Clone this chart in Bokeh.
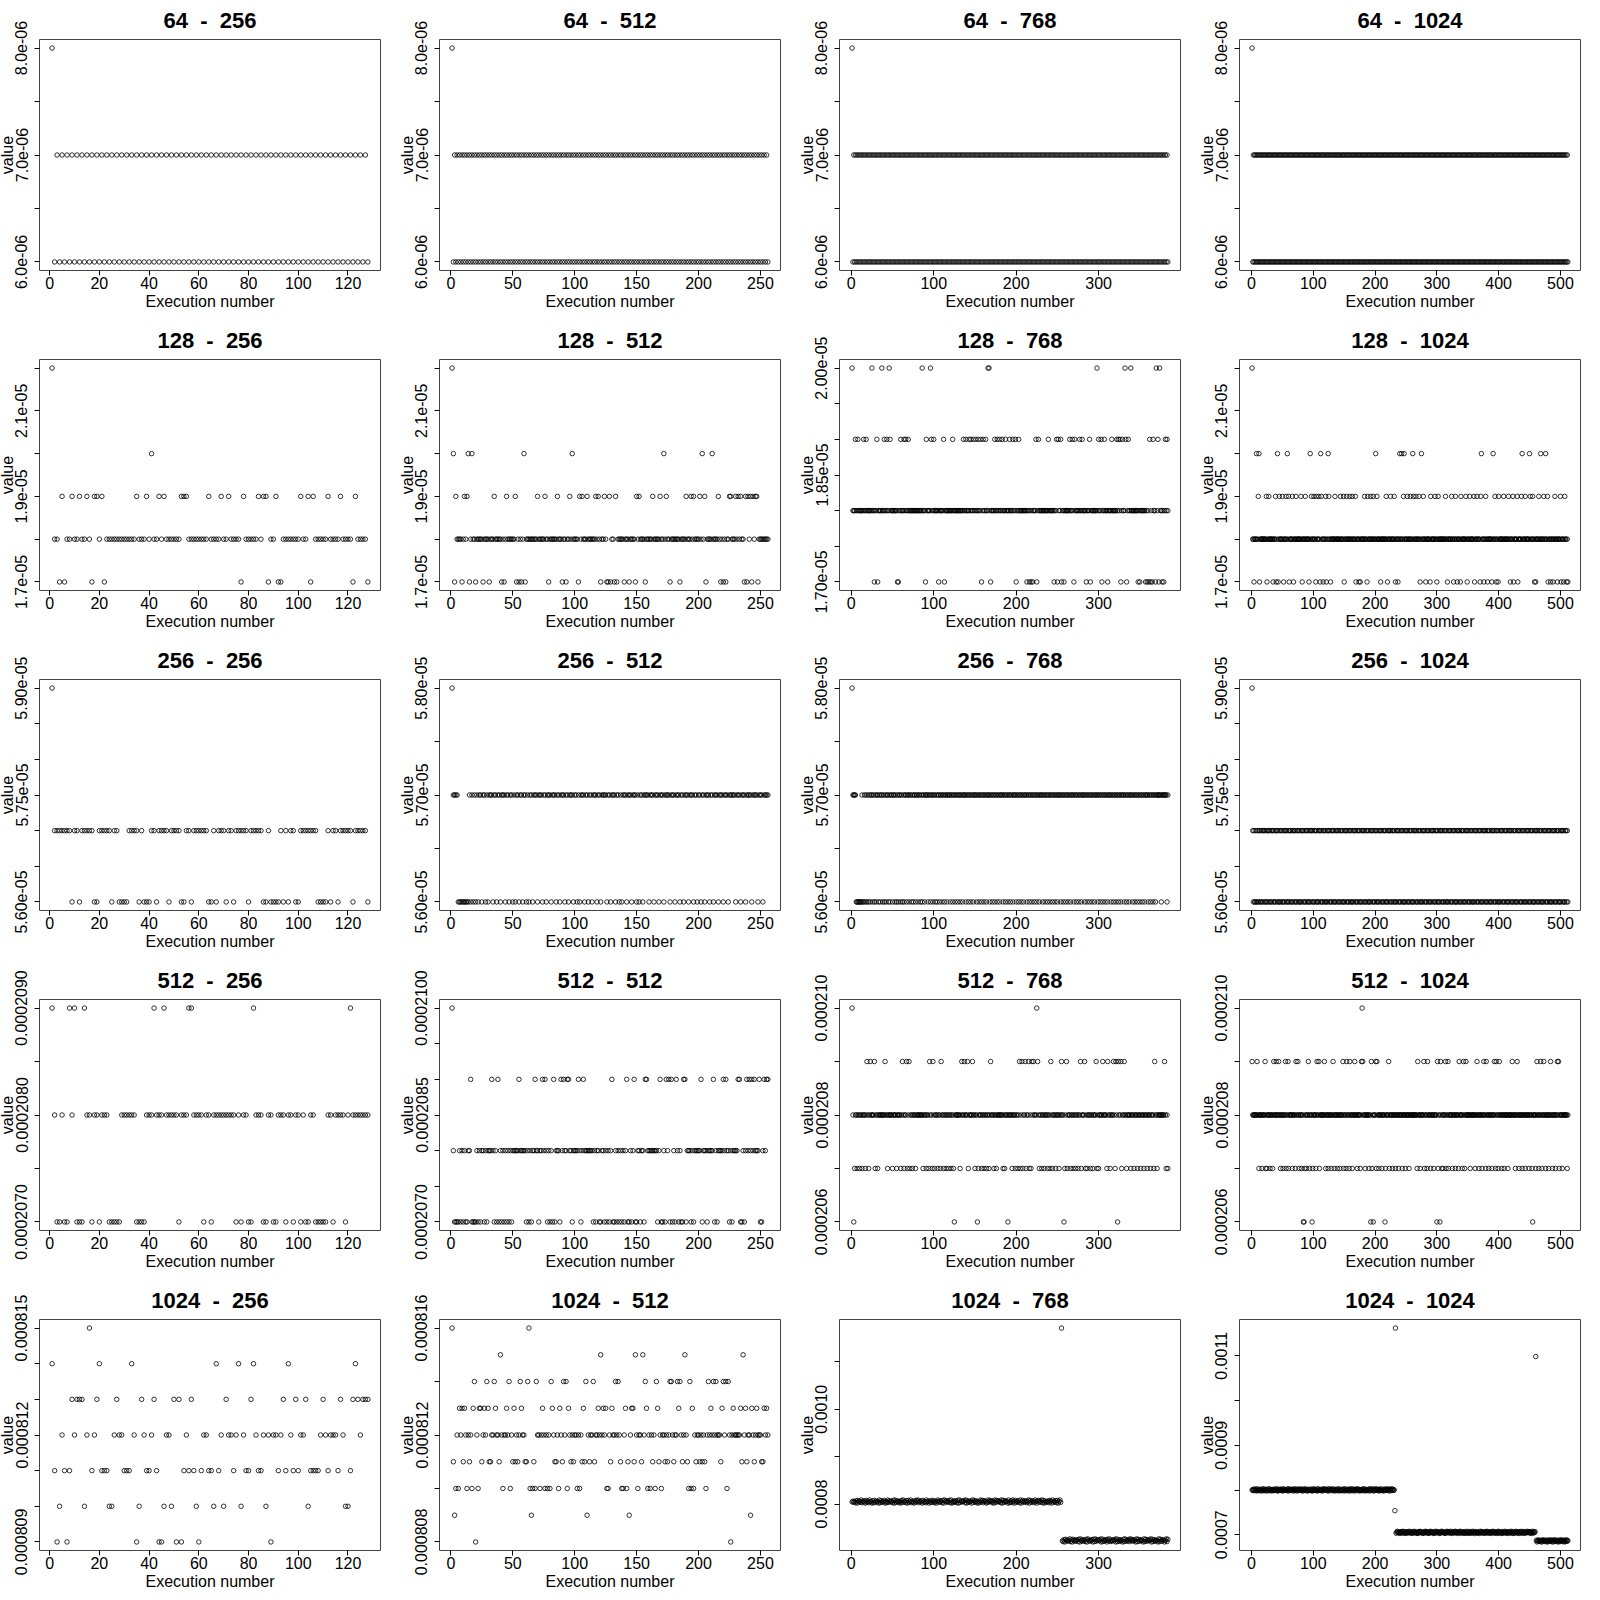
from bokeh.plotting import figure
from bokeh.layouts import gridplot
from bokeh.models import Range1d, FixedTicker
from bokeh.embed import file_html
from bokeh.resources import INLINE

ROWS = [64, 128, 256, 512, 1024]
COLS = [256, 512, 768, 1024]
X_TICKS = [[0, 20, 40, 60, 80, 100, 120], [0, 50, 100, 150, 200, 250],
           [0, 100, 200, 300], [0, 100, 200, 300, 400, 500]]

# ---------------- y ticks / labels ----------------
YT_64 = [6.0e-06, 6.5e-06, 7.0e-06, 7.5e-06, 8.0e-06]
YL_64 = ["6.0e-06", "", "7.0e-06", "", "8.0e-06"]
YT_128A = [1.7e-05, 1.8e-05, 1.9e-05, 2.0e-05, 2.1e-05, 2.2e-05]
YL_128A = ["1.7e-05", "", "1.9e-05", "", "2.1e-05", ""]
YT_128B = [1.7e-05, 1.75e-05, 1.8e-05, 1.85e-05, 1.9e-05, 1.95e-05, 2.0e-05]
YL_128B = ["1.70e-05", "", "", "1.85e-05", "", "", "2.00e-05"]
YT_256A = [5.6e-05, 5.65e-05, 5.7e-05, 5.75e-05, 5.8e-05, 5.85e-05, 5.9e-05]
YL_256A = ["5.60e-05", "", "", "5.75e-05", "", "", "5.90e-05"]
YT_256B = [5.6e-05, 5.65e-05, 5.7e-05, 5.75e-05, 5.8e-05]
YL_256B = ["5.60e-05", "", "5.70e-05", "", "5.80e-05"]
YT_512A = [0.000207, 0.0002075, 0.000208, 0.0002085, 0.000209]
YL_512A = ["0.0002070", "", "0.0002080", "", "0.0002090"]
YT_512B = [0.000207, 0.0002075, 0.000208, 0.0002085, 0.000209, 0.0002095, 0.00021]
YL_512B = ["0.0002070", "", "", "0.0002085", "", "", "0.0002100"]
YT_512C = [0.000206, 0.000207, 0.000208, 0.000209, 0.00021]
YL_512C = ["0.000206", "", "0.000208", "", "0.000210"]
YT_1024A = [0.000809, 0.00081, 0.000811, 0.000812, 0.000813, 0.000814, 0.000815]
YL_1024A = ["0.000809", "", "", "0.000812", "", "", "0.000815"]
YT_1024B = [0.000808, 0.00081, 0.000812, 0.000814, 0.000816]
YL_1024B = ["0.000808", "", "0.000812", "", "0.000816"]
YT_1024C = [0.0008, 0.0009, 0.001, 0.0011]
YL_1024C = ["0.0008", "", "0.0010", ""]
YT_1024D = [0.0007, 0.0008, 0.0009, 0.001, 0.0011]
YL_1024D = ["0.0007", "", "0.0009", "", "0.0011"]

# ---------------- row 64 : level codes ----------------
LEV_64 = [6.0e-06, 7.0e-06, 8.0e-06]
CODES_64_256 = "2" + "01" * 63 + "0"
CODES_64_512 = "2" + "01" * 127 + "0"
CODES_64_768 = "2" + "01" * 191 + "0"
CODES_64_1024 = "2" + "01" * 255 + "0"

# ---------------- row 128 ----------------
DEF_128_256 = 1.8e-05
EXC_128_256 = [
    (1.7e-05, [4, 6, 17, 22, 77, 88, 92, 93, 105, 122, 128]),
    (1.9e-05, [5, 9, 12, 15, 18, 19, 21, 35, 39, 44, 46, 53, 54, 55, 64, 69, 72, 78, 84, 86, 87,
               91, 101, 104, 106, 112, 117, 123]),
    (2.0e-05, [41]),
    (2.2e-05, [1]),
]
DEF_128_512 = 1.8e-05
EXC_128_512 = [
    (1.7e-05, [3, 9, 15, 20, 26, 31, 41, 43, 53, 55, 57, 60, 79, 90, 93, 103, 121, 126, 127, 129,
               132, 134, 140, 144, 149, 157, 177, 185, 206, 218, 220, 222, 237, 239, 243, 248]),
    (1.9e-05, [4, 11, 13, 35, 45, 52, 70, 76, 86, 96, 104, 106, 110, 117, 119, 124, 128, 133, 150,
               152, 163, 169, 174, 190, 194, 196, 201, 205, 216, 225, 226, 230, 232, 234, 238,
               240, 242, 244, 246, 247]),
    (2.0e-05, [2, 14, 17, 59, 98, 172, 203, 211]),
    (2.2e-05, [1]),
]
DEF_128_768 = 1.8e-05
EXC_128_768 = [
    (1.7e-05, [28, 32, 56, 57, 90, 106, 113, 158, 169, 200, 213, 216, 218, 220, 225, 246, 250,
               255, 258, 270, 285, 290, 304, 311, 327, 334, 348, 350, 357, 359, 361, 363, 365,
               369, 373, 377, 379]),
    (1.9e-05, [5, 8, 15, 18, 31, 40, 43, 47, 60, 64, 66, 69, 91, 97, 100, 112, 123, 136, 139, 143,
               145, 148, 151, 154, 157, 160, 163, 174, 177, 180, 183, 187, 192, 196, 199, 203,
               224, 227, 239, 249, 251, 254, 265, 268, 271, 277, 280, 289, 300, 303, 307, 316,
               322, 324, 326, 329, 333, 336, 362, 366, 372, 381, 383]),
    (2.0e-05, [1, 25, 37, 46, 86, 96, 166, 167, 298, 332, 339, 370, 374]),
]
DEF_128_1024 = 1.8e-05
EXC_128_1024 = [
    (1.7e-05, [4, 13, 25, 35, 40, 43, 52, 61, 68, 82, 93, 104, 111, 116, 121, 128, 150, 169, 174,
               176, 187, 209, 220, 233, 237, 273, 282, 289, 300, 317, 327, 333, 338, 349, 361,
               370, 376, 382, 389, 396, 399, 419, 424, 431, 458, 460, 480, 484, 488, 495, 501,
               505, 510, 512]),
    (1.9e-05, [11, 24, 28, 39, 45, 50, 56, 60, 66, 72, 80, 87, 97, 101, 105, 109, 113, 120, 125,
               135, 144, 149, 154, 159, 163, 168, 183, 188, 193, 197, 203, 218, 225, 231, 246,
               252, 257, 262, 266, 271, 278, 290, 297, 302, 314, 324, 330, 339, 347, 353, 360,
               365, 371, 379, 394, 400, 408, 416, 423, 430, 437, 443, 451, 455, 465, 473, 479,
               491, 500, 507]),
    (2.0e-05, [8, 12, 42, 58, 95, 112, 124, 201, 240, 243, 247, 261, 275, 372, 391, 438, 450,
               468, 476]),
    (2.2e-05, [1]),
]

# ---------------- row 256 ----------------
DEF_256_256 = 5.7e-05
EXC_256_256 = [
    (5.6e-05, [9, 12, 18, 19, 25, 28, 29, 30, 31, 36, 38, 39, 40, 43, 48, 53, 54, 57, 64, 65, 67,
               71, 74, 80, 86, 87, 89, 90, 91, 92, 94, 96, 99, 100, 108, 109, 110, 111, 113, 116,
               122, 128]),
    (5.9e-05, [1]),
]
DEF_256_512 = 5.7e-05
EXC_256_512 = [
    (5.6e-05, [6, 7, 8, 9, 10, 11, 12, 13, 14, 16, 18, 20, 22, 25, 28, 30, 34, 37, 40, 44, 47,
               50, 52, 55, 58, 61, 63, 66, 70, 74, 77, 81, 85, 88, 92, 95, 99, 102, 104, 108, 111,
               114, 118, 121, 126, 129, 133, 136, 138, 142, 146, 150, 152, 155, 160, 164, 168,
               172, 177, 181, 185, 188, 192, 196, 199, 202, 205, 209, 212, 216, 220, 224, 230,
               234, 238, 243, 248, 252]),
    (5.8e-05, [1]),
]
DEF_256_768 = 5.7e-05
EXC_256_768 = [
    (5.6e-05, [6, 7, 8, 9, 10, 11, 12, 14, 15, 17, 19, 21, 23, 26, 28, 30, 33, 35, 38, 40, 42,
               45, 47, 50, 53, 55, 57, 60, 62, 64, 67, 70, 73, 75, 78, 81, 84, 86, 89, 93, 96, 99,
               102, 104, 107, 110, 113, 116, 120, 123, 126, 129, 132, 135, 139, 142, 145, 148,
               152, 155, 158, 161, 164, 168, 171, 174, 177, 180, 184, 187, 190, 193, 196, 200,
               203, 206, 209, 213, 216, 219, 222, 225, 228, 232, 235, 238, 241, 244, 247, 250,
               254, 257, 260, 263, 266, 270, 273, 276, 279, 283, 286, 289, 292, 295, 299, 302,
               305, 308, 311, 315, 318, 321, 324, 327, 331, 334, 337, 341, 344, 347, 350, 353,
               356, 360, 363, 366, 369, 376, 383]),
    (5.8e-05, [1]),
]
DEF_256_1024 = 5.7e-05
EXC_256_1024 = [
    (5.6e-05, [3, 5, 6, 8, 10, 11, 14, 15, 17, 19, 22, 23, 25, 27, 30, 31, 33, 36, 37, 39, 42,
               44, 45, 47, 50, 51, 53, 56, 58, 59, 61, 64, 65, 67, 70, 72, 73, 76, 78, 79, 81, 84,
               86, 87, 90, 92, 93, 95, 98, 100, 101, 104, 106, 107, 109, 112, 114, 115, 118, 120,
               121, 123, 126, 128, 129, 132, 134, 135, 137, 140, 142, 143, 146, 148, 149, 151,
               154, 156, 157, 160, 162, 163, 165, 168, 170, 171, 174, 176, 177, 179, 182, 184,
               185, 188, 190, 191, 193, 196, 198, 199, 202, 204, 205, 207, 210, 212, 213, 216,
               218, 219, 221, 224, 226, 227, 230, 232, 233, 235, 238, 240, 241, 244, 246, 247,
               249, 252, 254, 255, 258, 260, 261, 263, 266, 268, 269, 272, 274, 275, 277, 280,
               282, 283, 286, 288, 289, 291, 294, 296, 297, 300, 302, 303, 305, 308, 310, 311,
               314, 316, 317, 319, 322, 324, 325, 328, 330, 331, 333, 336, 338, 339, 342, 344,
               345, 347, 350, 352, 353, 356, 358, 359, 361, 364, 366, 367, 370, 372, 373, 375,
               378, 380, 381, 384, 386, 387, 389, 392, 394, 395, 398, 400, 401, 403, 406, 408,
               409, 412, 414, 415, 417, 420, 422, 423, 426, 428, 429, 431, 434, 436, 437, 440,
               442, 443, 445, 448, 450, 451, 454, 456, 457, 459, 462, 464, 465, 468, 470, 471,
               473, 476, 478, 479, 482, 484, 485, 487, 490, 492, 493, 496, 498, 499, 501, 504,
               506, 507, 510, 512]),
    (5.9e-05, [1]),
]

# ---------------- row 512 ----------------
DEF_512_256 = 0.000208
EXC_512_256 = [
    (0.000207, [3, 4, 6, 7, 11, 12, 13, 17, 20, 24, 25, 26, 27, 28, 35, 36, 37, 38, 52, 62, 65,
                75, 77, 80, 81, 86, 87, 90, 91, 95, 98, 101, 103, 104, 107, 108, 109, 110, 111,
                114, 119]),
    (0.000209, [1, 8, 10, 14, 42, 46, 56, 57, 82, 121]),
]
DEF_512_512 = 0.000208
EXC_512_512 = [
    (0.000207, [3, 4, 5, 6, 8, 10, 12, 13, 17, 18, 19, 20, 22, 24, 27, 29, 35, 37, 39, 41, 43, 45,
                47, 49, 61, 63, 65, 71, 78, 80, 82, 84, 88, 98, 105, 115, 117, 120, 121, 124, 126,
                128, 131, 132, 134, 136, 138, 140, 143, 144, 146, 149, 150, 153, 156, 167, 170,
                171, 173, 177, 179, 181, 184, 186, 187, 190, 194, 196, 203, 207, 213, 215, 225,
                227, 234, 235, 237, 250, 251]),
    (0.000209, [16, 33, 38, 55, 68, 74, 76, 83, 89, 91, 94, 95, 103, 107, 130, 142, 148, 157, 158,
                169, 174, 176, 178, 182, 188, 189, 202, 212, 220, 222, 232, 233, 239, 241, 243,
                245, 249, 253, 255, 256]),
    (0.00021, [1]),
]
DEF_512_768 = 0.000208
EXC_512_768 = [
    (0.000207, [4, 7, 10, 13, 17, 21, 29, 32, 44, 50, 55, 60, 64, 68, 71, 74, 78, 87, 91, 94, 98,
                101, 105, 108, 112, 115, 118, 121, 124, 132, 142, 150, 154, 158, 161, 164, 167,
                173, 176, 184, 186, 195, 199, 202, 205, 208, 212, 216, 218, 228, 231, 234, 238,
                241, 244, 248, 252, 259, 262, 266, 269, 272, 275, 279, 284, 286, 290, 293, 298,
                300, 310, 314, 320, 328, 334, 339, 343, 347, 351, 355, 359, 363, 367, 371, 382,
                384]),
    (0.000209, [19, 23, 28, 41, 62, 67, 70, 95, 99, 109, 134, 137, 141, 147, 169, 204, 207, 211,
                215, 219, 221, 226, 242, 255, 261, 278, 283, 297, 305, 311, 318, 321, 324, 327,
                331, 368, 380]),
    (0.000206, [3, 125, 153, 190, 258, 323]),
    (0.00021, [1, 225]),
]
DEF_512_1024 = 0.000208
EXC_512_1024 = [
    (0.000207, [12, 17, 23, 25, 30, 34, 47, 51, 56, 60, 66, 71, 77, 81, 86, 89, 94, 99, 104, 110,
                120, 124, 129, 134, 139, 143, 149, 153, 158, 163, 171, 176, 184, 190, 195, 202,
                206, 211, 217, 223, 228, 233, 238, 244, 249, 255, 268, 273, 280, 284, 290, 295,
                302, 308, 310, 315, 319, 325, 330, 335, 341, 345, 354, 362, 368, 373, 379, 384,
                389, 395, 399, 405, 409, 415, 427, 433, 438, 443, 449, 454, 460, 465, 470, 476,
                481, 487, 492, 498, 503, 511]),
    (0.000209, [1, 9, 22, 36, 40, 44, 55, 59, 72, 75, 92, 106, 109, 118, 132, 148, 154, 159, 167,
                178, 180, 194, 201, 203, 222, 269, 279, 285, 301, 306, 314, 318, 336, 343, 347,
                365, 376, 380, 393, 396, 401, 422, 430, 462, 468, 473, 484, 495, 497]),
    (0.000206, [84, 85, 98, 193, 197, 216, 300, 305, 455]),
    (0.00021, [179]),
]

# ---------------- row 1024 ----------------
DEF_1024_256 = 0.000812
EXC_1024_256 = [
    (0.000813, [9, 11, 12, 13, 19, 27, 37, 42, 50, 52, 57, 71, 81, 94, 99, 103, 110, 117, 122, 124,
                126, 127, 128]),
    (0.000811, [2, 6, 8, 17, 21, 22, 23, 30, 31, 32, 39, 40, 43, 54, 56, 58, 61, 64, 65, 68, 74,
                79, 80, 84, 85, 92, 95, 98, 100, 105, 106, 107, 108, 112, 116, 121]),
    (0.00081, [4, 14, 24, 25, 36, 46, 49, 59, 66, 70, 77, 87, 104, 119, 120]),
    (0.000814, [1, 20, 33, 67, 76, 82, 96, 123]),
    (0.000809, [3, 7, 35, 44, 45, 51, 53, 60, 89]),
    (0.000815, [16]),
]
DEF_1024_512 = 0.000812
EXC_1024_512 = [
    (0.000813, [7, 9, 11, 18, 23, 24, 27, 30, 36, 45, 51, 57, 74, 76, 78, 80, 82, 84, 88, 90, 95,
                102, 104, 107, 119, 123, 125, 127, 130, 139, 141, 143, 146, 147, 158, 161, 163,
                167, 173, 180, 184, 192, 195, 201, 210, 219, 228, 234, 238, 243, 245, 247, 253,
                255]),
    (0.000811, [2, 10, 15, 25, 31, 32, 39, 50, 52, 54, 60, 61, 67, 84, 85, 90, 97, 99, 106, 108,
                112, 116, 129, 137, 143, 148, 154, 163, 168, 170, 173, 175, 177, 180, 187, 191,
                196, 198, 201, 203, 205, 208, 212, 218, 235, 239, 245, 251, 252]),
    (0.00081, [4, 6, 13, 17, 22, 42, 48, 64, 66, 68, 72, 76, 78, 80, 87, 91, 94, 102, 104, 126,
               127, 138, 139, 142, 151, 159, 161, 165, 170, 192, 194, 196, 206, 223]),
    (0.000814, [19, 29, 35, 47, 56, 62, 69, 81, 91, 93, 109, 115, 133, 135, 157, 166, 177, 178,
                183, 185, 193, 208, 212, 214, 220, 222, 224]),
    (0.000815, [40, 121, 149, 155, 189, 236]),
    (0.000809, [3, 65, 110, 144, 242]),
    (0.000808, [20, 226]),
    (0.000816, [1, 63]),
]

# continuous rows: (first index, last index, level) + per-point offsets (digit - 4.5) * step
SEG_1024_768 = [(1, 254, 0.000805), (255, 255, 0.00117), (256, 384, 0.000723)]
STEP_1024_768 = 0.8e-06
NOISE_1024_768 = (
    "463527184639257418362954172836451927364815293746"
    "528193746251839462718359264173859264718352946173"
    "384726159374628195736482915374628193746582917364"
    "619384725163948275613948572619384756291837465192"
    "472951836472915836472591836472951683749281635472"
    "851936472815936427185364927185364728195374628195"
    "364718293657481926375184926357481926374518293647"
    "295837461928374651928374659182736451928374615928"
)
SEG_1024_1024 = [(1, 231, 0.0008), (232, 232, 0.000756), (233, 233, 0.00116),
                 (234, 459, 0.000705), (460, 460, 0.0011), (461, 512, 0.000686)]
STEP_1024_1024 = 0.6e-06
NOISE_1024_1024 = (
    "5372846193527461839264715392846173528463917254836192746358192746"
    "4816392751846395271846392517463825194736281945372619485736291847"
    "6294715382649173528461937254816392748153692847153628491735264819"
    "3758162947385162947315826493751862947351826947315862947318526497"
    "5183629475316284957316284953716294853716294857316295847316295847"
    "2946173859264718395264718352946185372946185372641958372641859372"
    "7361849527361849257318462957318462597318426953718426951738426957"
    "4827159364827159346281759364281753946281759346281573946285173946"
)


def from_codes(codes, levels):
    return [levels[int(ch)] for ch in codes]


def from_exceptions(n, default, exc):
    vals = [default] * n
    for lvl, idxs in exc:
        for i in idxs:
            if 1 <= i <= n:
                vals[i - 1] = lvl
    return vals


def from_segments(n, segs, noise, step):
    vals = [None] * n
    for a, b, base in segs:
        for i in range(a, b + 1):
            vals[i - 1] = base + (int(noise[i - 1]) - 4.5) * step
    return vals


PANELS = {
    (0, 0): (from_codes(CODES_64_256, LEV_64), YT_64, YL_64),
    (0, 1): (from_codes(CODES_64_512, LEV_64), YT_64, YL_64),
    (0, 2): (from_codes(CODES_64_768, LEV_64), YT_64, YL_64),
    (0, 3): (from_codes(CODES_64_1024, LEV_64), YT_64, YL_64),
    (1, 0): (from_exceptions(128, DEF_128_256, EXC_128_256), YT_128A, YL_128A),
    (1, 1): (from_exceptions(256, DEF_128_512, EXC_128_512), YT_128A, YL_128A),
    (1, 2): (from_exceptions(384, DEF_128_768, EXC_128_768), YT_128B, YL_128B),
    (1, 3): (from_exceptions(512, DEF_128_1024, EXC_128_1024), YT_128A, YL_128A),
    (2, 0): (from_exceptions(128, DEF_256_256, EXC_256_256), YT_256A, YL_256A),
    (2, 1): (from_exceptions(256, DEF_256_512, EXC_256_512), YT_256B, YL_256B),
    (2, 2): (from_exceptions(384, DEF_256_768, EXC_256_768), YT_256B, YL_256B),
    (2, 3): (from_exceptions(512, DEF_256_1024, EXC_256_1024), YT_256A, YL_256A),
    (3, 0): (from_exceptions(128, DEF_512_256, EXC_512_256), YT_512A, YL_512A),
    (3, 1): (from_exceptions(256, DEF_512_512, EXC_512_512), YT_512B, YL_512B),
    (3, 2): (from_exceptions(384, DEF_512_768, EXC_512_768), YT_512C, YL_512C),
    (3, 3): (from_exceptions(512, DEF_512_1024, EXC_512_1024), YT_512C, YL_512C),
    (4, 0): (from_exceptions(128, DEF_1024_256, EXC_1024_256), YT_1024A, YL_1024A),
    (4, 1): (from_exceptions(256, DEF_1024_512, EXC_1024_512), YT_1024B, YL_1024B),
    (4, 2): (from_segments(384, SEG_1024_768, NOISE_1024_768, STEP_1024_768), YT_1024C, YL_1024C),
    (4, 3): (from_segments(512, SEG_1024_1024, NOISE_1024_1024, STEP_1024_1024), YT_1024D, YL_1024D),
}

FONT = "Liberation Sans"
LEFT = 48
TOP = 45
SHIFT_X = LEFT - 39
SHIFT_Y = TOP - 39
NBSP = "\u00a0"


def make_panel(r, c):
    vals, yt, yl = PANELS[(r, c)]
    n = len(vals)
    xs = list(range(1, n + 1))
    px = 0.04 * (n - 1)
    lo, hi = min(vals), max(vals)
    py = 0.04 * (hi - lo)
    p = figure(width=400, height=320, output_backend="svg", toolbar_location=None,
               x_range=Range1d(1 - px, n + px), y_range=Range1d(lo - py, hi + py),
               min_border_left=LEFT, min_border_right=400 - LEFT - 341, min_border_top=TOP,
               min_border_bottom=320 - TOP - 231, background_fill_color="white",
               border_fill_color="white")
    p.title.text = f"{ROWS[r]} {NBSP}-{NBSP} {COLS[c]}"
    p.title.align = "center"
    p.title.text_font = FONT
    p.title.text_font_size = "22px"
    p.title.text_font_style = "bold"
    p.title.text_color = "black"
    p.title.standoff = 14
    p.grid.visible = False
    p.outline_line_color = "#444444"
    p.outline_line_width = 1
    for ax in (p.xaxis[0], p.yaxis[0]):
        ax.axis_line_color = None
        ax.major_tick_line_color = "black"
        ax.major_tick_out = 5
        ax.major_tick_in = 0
        ax.minor_tick_line_color = None
        ax.major_label_text_font = FONT
        ax.major_label_text_font_size = "16px"
        ax.major_label_text_color = "black"
        ax.axis_label_text_font = FONT
        ax.axis_label_text_font_size = "16px"
        ax.axis_label_text_font_style = "normal"
        ax.axis_label_text_color = "black"
    p.xaxis[0].major_label_standoff = 1
    p.xaxis[0].axis_label_standoff = 1
    p.yaxis[0].major_label_standoff = 7
    p.yaxis[0].axis_label_standoff = -3
    p.xaxis[0].ticker = FixedTicker(ticks=X_TICKS[c])
    p.xaxis[0].axis_label = "Execution number"
    p.yaxis[0].ticker = FixedTicker(ticks=yt)
    p.yaxis[0].major_label_overrides = {t: l for t, l in zip(yt, yl)}
    p.yaxis[0].major_label_orientation = "vertical"
    p.yaxis[0].axis_label = "value"
    p.scatter(xs, vals, marker="circle", size=4.5, fill_color=None,
              line_color="black", line_width=0.8)
    return p


grid_rows = [[make_panel(r, c) for c in range(4)] for r in range(5)]
grid = gridplot(grid_rows, toolbar_location=None)
grid.styles = {"margin-left": f"-{SHIFT_X}px", "margin-top": f"-{SHIFT_Y}px"}

open("out.html", "w").write(file_html(grid, INLINE, title="Execution values"))
